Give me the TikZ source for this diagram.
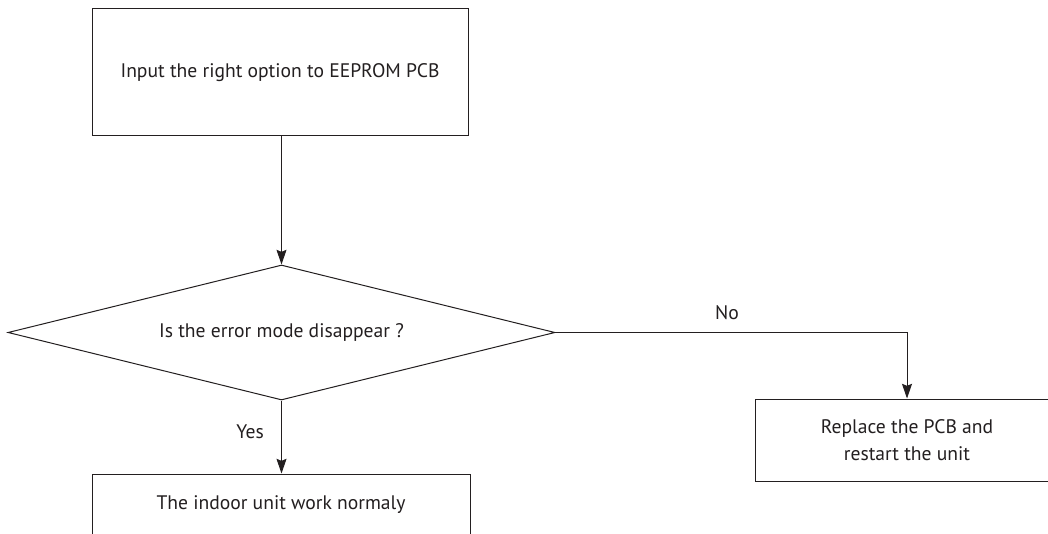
\documentclass[tikz,border=0pt]{standalone}
\usepackage{fontspec}
\setmainfont{PT Sans}
\usetikzlibrary{shapes.geometric,arrows.meta}
\definecolor{ink}{HTML}{231F20}
\begin{document}
\begin{tikzpicture}[x=0.75pt,y=-0.75pt,
  every node/.style={font=\fontsize{14.7}{20}\selectfont, text=ink},
  box/.style={draw=ink, line width=0.75pt, rectangle, inner sep=0pt, align=center},
  dec/.style={draw=ink, line width=0.75pt, diamond, inner sep=0pt, aspect=4},
  conn/.style={draw=ink, line width=0.75pt, -{Stealth[length=11pt,width=7.5pt,inset=1.5pt]}},
  lbl/.style={inner sep=0pt}]
\clip (0,0) rectangle (1048,534);
\fill[white] (0,0) rectangle (1048,534);
\node[box, minimum width=376*0.75pt, minimum height=127*0.75pt] (top) at (280,72.5) {Input the right option to EEPROM PCB};
\node[dec, minimum width=547*0.75pt, minimum height=135*0.75pt] (q) at (281.5,332.5) {Is the error mode disappear ?};
\node[box, minimum width=304*0.75pt, minimum height=82*0.75pt] (rep) at (907,440) {Replace the PCB and\\restart the unit};
\node[box, minimum width=378*0.75pt, minimum height=62*0.75pt] (ok) at (281,505) {The indoor unit work normaly};
\coordinate (turn) at (907,332.5);
\draw[conn] (top.south -| q.north) -- (q.north);
\draw[conn] (q.east) -- (turn) -- (rep.north);
\draw[conn] (q.south) -- (q.south |- ok.north);
\node[lbl] (no) at (727,313) {No};
\node[lbl] (yes) at (250,432) {Yes};
\end{tikzpicture}
\end{document}
